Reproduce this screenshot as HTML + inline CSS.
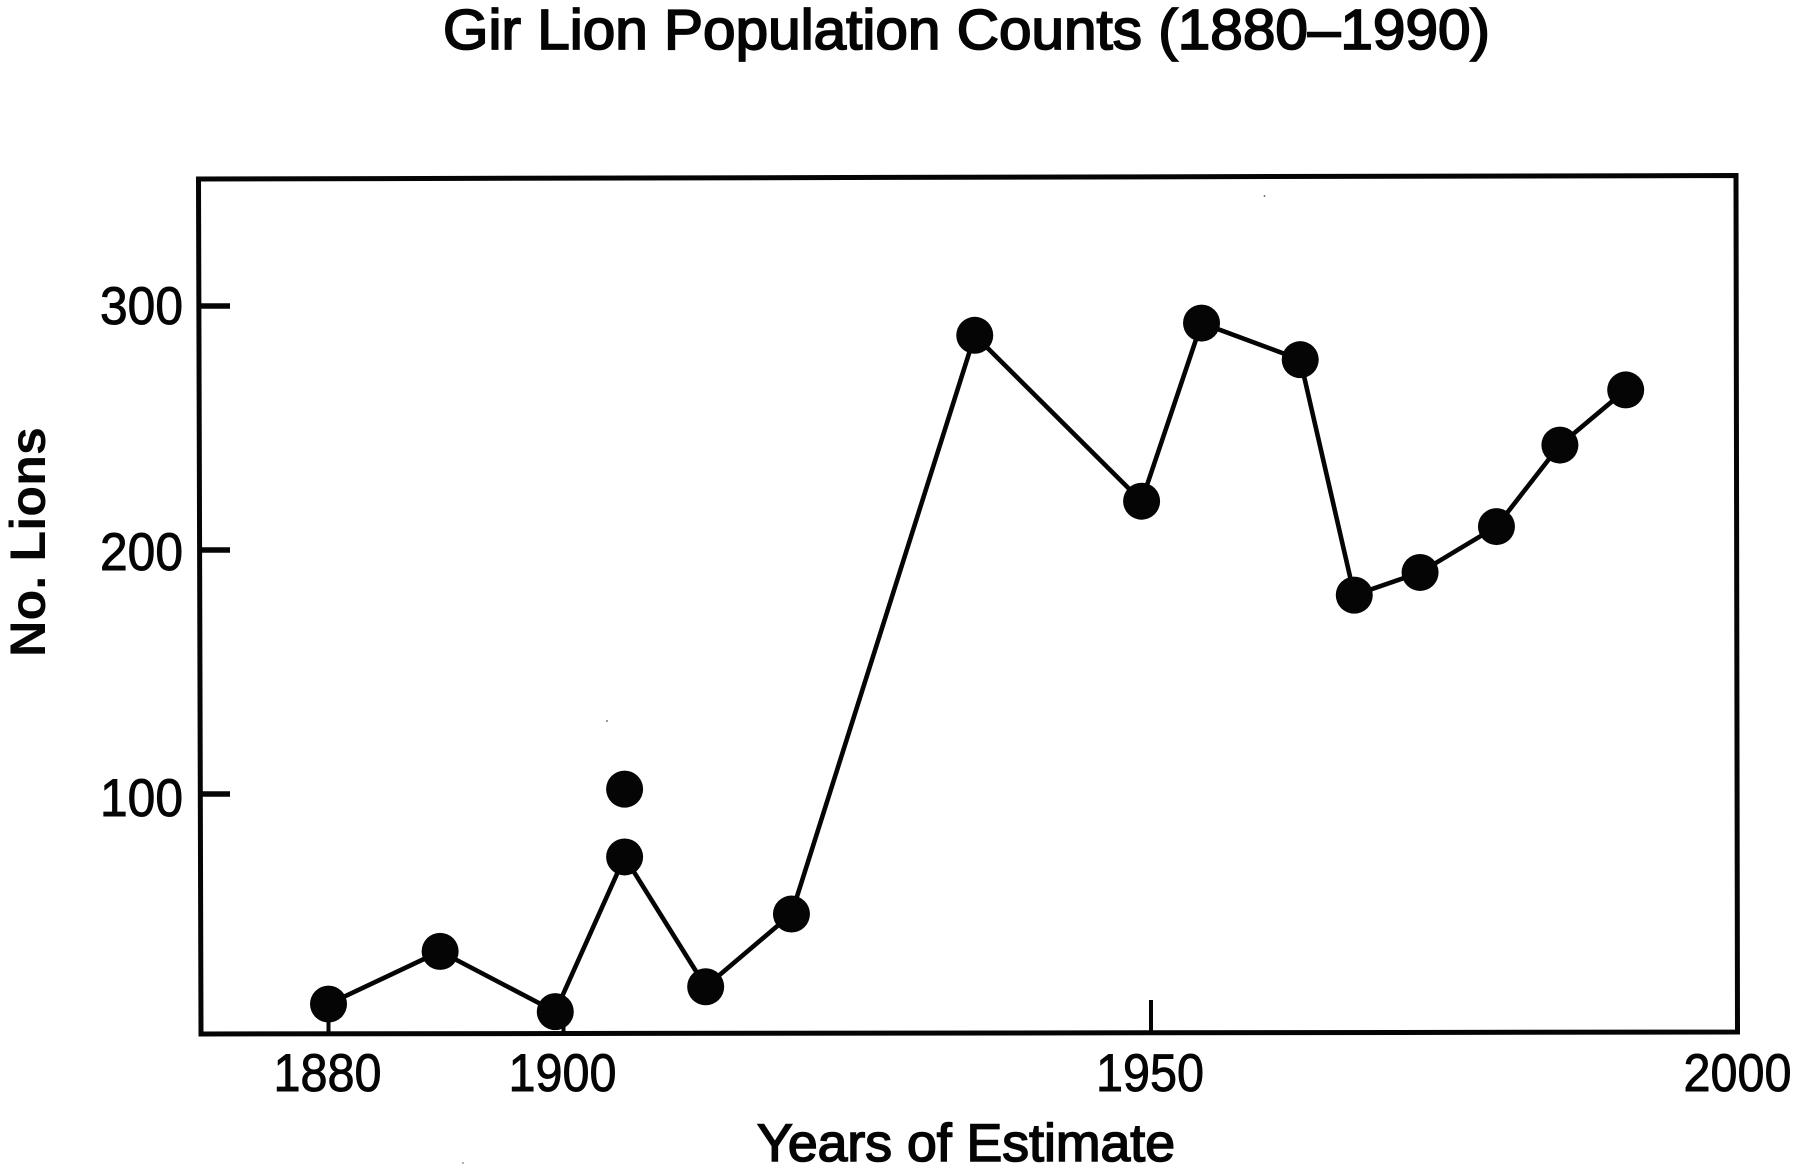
<!DOCTYPE html>
<html lang="en">
<head>
<meta charset="utf-8">
<title>Gir Lion Population Counts (1880–1990)</title>
<style>
html,body{margin:0;padding:0;background:#fff;width:1800px;height:1168px;overflow:hidden}
svg{display:block}
text{font-family:"Liberation Sans",Arial,sans-serif;fill:#050505}
</style>
</head>
<body>
<svg id="chart" xmlns="http://www.w3.org/2000/svg" width="1800" height="1168" viewBox="0 0 1800 1168">
  <rect x="0" y="0" width="1800" height="1168" fill="#ffffff"/>
  <text x="443" y="49" font-size="57" stroke="#050505" stroke-width="1.8" textLength="1047" lengthAdjust="spacingAndGlyphs">Gir Lion Population Counts (1880–1990)</text>
  <path d="M198.5 179 L1736 175.5 L1737.5 1032 L201 1034 Z" fill="none" stroke="#050505" stroke-width="5"/>
  <text transform="translate(45,657) rotate(-90)" font-size="50" font-weight="700" textLength="230" lengthAdjust="spacingAndGlyphs">No. Lions</text>
  <text x="757" y="1161" font-size="53" stroke="#050505" stroke-width="1.6" textLength="418" lengthAdjust="spacingAndGlyphs">Years of Estimate</text>
  <g id="axes"></g>
  <g id="series"></g>
  <circle cx="1264.5" cy="196" r="0.9" fill="#555"/>
  <circle cx="607" cy="721" r="0.9" fill="#555"/>
  <circle cx="463" cy="1163" r="0.9" fill="#777"/>
</svg>
<script>
const xTickLabels = [1880, 1900, 1950, 2000];
const yTickLabels = [100, 200, 300];
const lineYears = [1880, 1889.5, 1899.3, 1905.2, 1912.1, 1919.4, 1935, 1949.2, 1954.3, 1962.7, 1967.3, 1972.9, 1979.4, 1984.8, 1990.4];
const lineCounts = [13.9, 35.5, 10.8, 74.2, 21, 50.8, 288, 220, 293, 278, 181.5, 190.8, 209.6, 243, 265.6];
const extraYears = [1905.2];
const extraCounts = [102];

const NS = 'http://www.w3.org/2000/svg';
function xScale(year) { return 1151 + (year - 1950) * 11.75; }
function yScale(count) { return 794 + (100 - count) * 2.44; }
function make(tag, parent, attrs, text) {
  const el = document.createElementNS(NS, tag);
  for (const k in attrs) el.setAttribute(k, attrs[k]);
  if (text !== undefined) el.textContent = text;
  parent.appendChild(el);
  return el;
}

const axes = document.getElementById('axes');
const series = document.getElementById('series');

xTickLabels.forEach(function (year, i) {
  const px = xScale(year);
  if (i < xTickLabels.length - 1) {
    const tick = make('line', axes, { x1: px, x2: px, y1: 1032, y2: 1000, stroke: '#050505', 'stroke-width': 4 });
    
    
  }
  const label = make('text', axes, { x: px - 55, y: 1091, 'font-size': 53, stroke: '#050505', 'stroke-width': 0.9, textLength: 108, lengthAdjust: 'spacingAndGlyphs' }, String(year));
  
  
});

yTickLabels.forEach(function (count) {
  const py = yScale(count);
  const tick = make('line', axes, { x1: 199, x2: 230, y1: py, y2: py, stroke: '#050505', 'stroke-width': 5.5 });
  
  
  const label = make('text', axes, { x: 100, y: py + 18 + (300 - count) * 0.02, 'font-size': 53, stroke: '#050505', 'stroke-width': 0.9, textLength: 83, lengthAdjust: 'spacingAndGlyphs' }, String(count));
  
  
});

const points = lineYears.map(function (year, i) {
  return xScale(year) + ',' + yScale(lineCounts[i]);
}).join(' ');
const polyline = make('polyline', series, { points: points, fill: 'none', stroke: '#050505', 'stroke-width': 4.6, 'stroke-linejoin': 'round' });



lineYears.forEach(function (year, i) {
  const dot = make('circle', series, { cx: xScale(year), cy: yScale(lineCounts[i]), r: 18.5, fill: '#050505' });
  
  
});

extraYears.forEach(function (year, i) {
  const dot = make('circle', series, { cx: xScale(year), cy: yScale(extraCounts[i]), r: 18.5, fill: '#050505' });
  
  
});
</script>
</body>
</html>
